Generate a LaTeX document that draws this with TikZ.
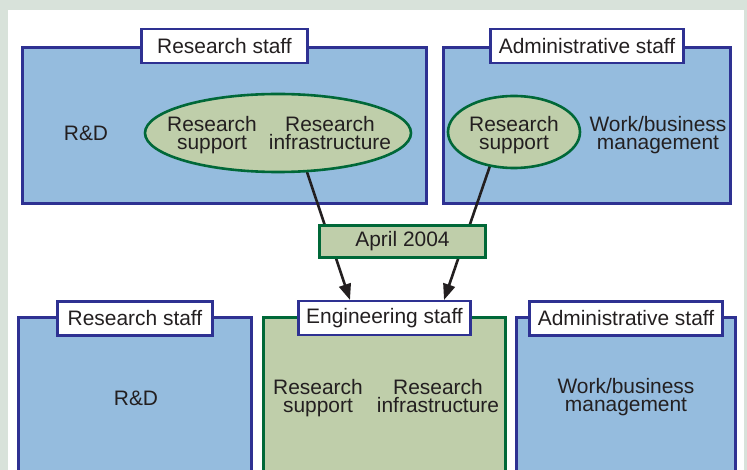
\documentclass[tikz,border=0pt]{standalone}
\usepackage{fontspec}
\setmainfont{Liberation Sans}
\usetikzlibrary{shapes.geometric,arrows.meta}

\definecolor{pagegray}{RGB}{216,226,218}
\definecolor{unitblue}{RGB}{149,188,222}
\definecolor{navy}{RGB}{46,49,146}
\definecolor{sage}{RGB}{191,206,170}
\definecolor{deepgreen}{RGB}{0,104,56}
\definecolor{inkgray}{RGB}{35,31,32}

\begin{document}
\begin{tikzpicture}[x=1bp,y=-1bp,
  every node/.style={font=\fontsize{21}{18}\selectfont, text=inkgray},
  unitbox/.style={rectangle, draw=navy, fill=unitblue, line width=2.6bp, inner sep=0pt},
  engbox/.style={rectangle, draw=deepgreen, fill=sage, line width=2.6bp, inner sep=0pt},
  tagbox/.style={rectangle, draw=navy, fill=white, line width=2.6bp, inner sep=0pt, minimum height=34bp},
  groupoval/.style={ellipse, draw=deepgreen, fill=sage, line width=2.6bp, inner sep=0pt},
  flow/.style={line width=2.6bp, draw=inkgray, -{Triangle[length=16bp,width=12bp]}},
  txt/.style={align=center, inner sep=0pt, text depth=5bp}
]
\useasboundingbox (0,0) rectangle (747,470);
\clip (0,0) rectangle (747,470);

% page background and white panel
\fill[pagegray] (0,0) rectangle (747,470);
\fill[white] (8,10) rectangle (744,480);

% ---- before: two units ----
\node[unitbox, minimum width=404.5bp, minimum height=156.5bp] (rsUnit) at (224.5,125.5) {};
\node[unitbox, minimum width=287.5bp, minimum height=156.5bp] (adUnit) at (587,125.5) {};

% transfer arrows (drawn beneath the ovals and the date box)
\coordinate (fromRs) at (304.6,165);
\coordinate (fromAd) at (492,160);
\coordinate (toEngL) at (350,300);
\coordinate (toEngR) at (444,300);
\draw[flow] (fromRs) -- (toEngL);
\draw[flow] (fromAd) -- (toEngR);

\node[groupoval, minimum width=266bp, minimum height=78bp] (rsOval) at (278,133) {};
\node[groupoval, minimum width=132bp, minimum height=72bp] (adOval) at (514,132) {};

\node[txt] (rsRD) at (86,136) {R\&D};
\node[txt] (rsSupport) at (212,135) {Research\\support};
\node[txt] (rsInfra) at (330,135) {Research\\infrastructure};
\node[txt] (adSupport) at (514,135) {Research\\support};
\node[txt] (adMgmt) at (658,135) {Work/business\\management};

\node[tagbox, minimum width=165.5bp] (rsTag) at (rsUnit.north) {Research staff};
\node[tagbox, minimum width=193.5bp] (adTag) at (adUnit.north) {Administrative staff};

% date of the reorganisation
\node[engbox, minimum width=166.5bp, minimum height=32.5bp] (date) at (402.5,241.5) {April 2004};

% ---- after: three units ----
\node[unitbox, minimum width=233.5bp, minimum height=200bp, anchor=north] (rsNew) at (135,316.2) {};
\node[engbox, minimum width=242.5bp, minimum height=200bp, anchor=north] (engNew) at (384.5,316.2) {};
\node[unitbox, minimum width=219.5bp, minimum height=200bp, anchor=north] (adNew) at (626,316.2) {};

\node[txt] (rsNewRD) at (136,401) {R\&D};
\node[txt] (engSupport) at (318,398) {Research\\support};
\node[txt] (engInfra) at (438,398) {Research\\infrastructure};
\node[txt] (adNewMgmt) at (626,397) {Work/business\\management};

\node[tagbox, minimum width=155.5bp] (rsNewTag) at (135,318.5) {Research staff};
\node[tagbox, minimum width=172.5bp] (engTag) at (384.5,318) {Engineering staff};
\node[tagbox, minimum width=193.5bp] (adNewTag) at (626,318.5) {Administrative staff};
\end{tikzpicture}
\end{document}
